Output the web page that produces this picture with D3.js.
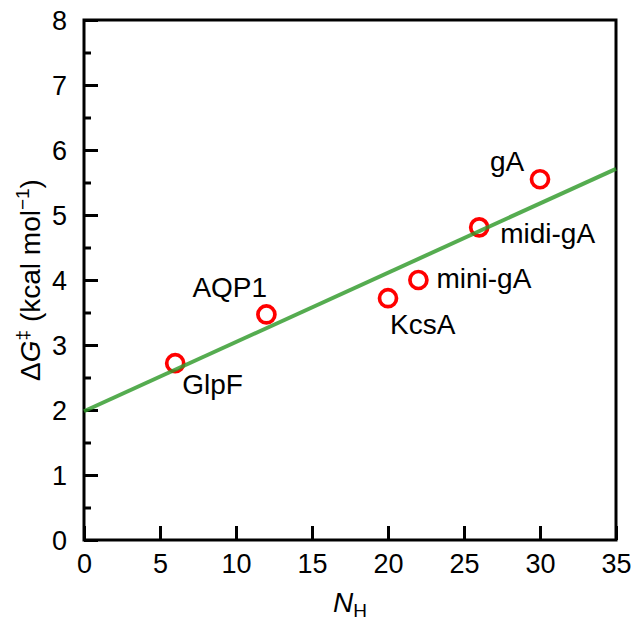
<!DOCTYPE html>
<html>
<head>
<meta charset="utf-8">
<script src="https://cdn.jsdelivr.net/npm/d3@7"></script>
<style>
  body { margin: 0; background: #fff; }
  text { font-family: "Liberation Sans", Arial, sans-serif; }
</style>
</head>
<body>
<div class="chart"></div>
<script>
var svgWidth = 641;
var svgHeight = 623;

var margin = { top: 20, right: 25, bottom: 83, left: 84 };
var width = svgWidth - margin.left - margin.right;
var height = svgHeight - margin.top - margin.bottom;

// data
var channels = ["GlpF", "AQP1", "KcsA", "mini-gA", "midi-gA", "gA"];
var nH = [6, 12, 20, 22, 26, 30];
var dG = [2.72, 3.47, 3.72, 4.0, 4.81, 5.55];
// fitted line: value at N_H = 0 and N_H = 35
var fitX = [0, 35];
var fitY = [1.98, 5.71];
var xTicks = [0, 5, 10, 15, 20, 25, 30, 35];
var yTicks = [0, 1, 2, 3, 4, 5, 6, 7, 8];
var yMinorTicks = [0.5, 1.5, 2.5, 3.5, 4.5, 5.5, 6.5, 7.5];

// label offsets relative to the point (dx, dy to baseline), text-anchor start
var labelOffsets = [[7, 31], [-74, -17], [2, 36], [18, 8], [21, 16], [-50, -8]];

var svg = d3.select(".chart")
  .append("svg")
  .attr("width", svgWidth)
  .attr("height", svgHeight);

var chartGroup = svg.append("g")
  .attr("transform", `translate(${margin.left}, ${margin.top})`);

var xScale = d3.scaleLinear().domain([0, 35]).range([0, width]);
var yScale = d3.scaleLinear().domain([0, 8]).range([height, 0]);

// axes, ticks pointing inward
var bottomAxis = d3.axisBottom(xScale)
  .tickValues(xTicks)
  .tickSizeInner(-14)
  .tickSizeOuter(0)
  .tickPadding(14);

var leftAxis = d3.axisLeft(yScale)
  .tickValues(yTicks)
  .tickSizeInner(-14)
  .tickSizeOuter(0)
  .tickPadding(17);

var leftMinor = d3.axisLeft(yScale)
  .tickValues(yMinorTicks)
  .tickSizeInner(-7)
  .tickSizeOuter(0)
  .tickFormat("");

var xg = chartGroup.append("g")
  .attr("transform", `translate(0, ${height})`)
  .call(bottomAxis);

var yg = chartGroup.append("g").call(leftAxis);
var ymg = chartGroup.append("g").call(leftMinor);

[xg, yg, ymg].forEach(function(g) {
  g.select(".domain").remove();
  g.selectAll(".tick line").attr("stroke", "#000").attr("stroke-width", 3);
  g.selectAll(".tick text")
    .attr("fill", "#000")
    .attr("font-size", 27)
    .style("font-family", "'Liberation Sans', Arial, sans-serif");
});
yg.selectAll(".tick text").attr("dy", "0.36em");
xg.selectAll(".tick text").attr("dy", "0.71em");

// frame
chartGroup.append("rect")
  .attr("x", 0)
  .attr("y", 0)
  .attr("width", width)
  .attr("height", height)
  .attr("fill", "none")
  .attr("stroke", "#000")
  .attr("stroke-width", 3);

var points = channels.map(function(c, i) {
  return { name: c, x: nH[i], y: dG[i], off: labelOffsets[i] };
});

// circles
chartGroup.selectAll("circle")
  .data(points)
  .enter()
  .append("circle")
  .attr("cx", d => xScale(d.x))
  .attr("cy", d => yScale(d.y))
  .attr("r", 8.5)
  .attr("fill", "none")
  .attr("stroke", "#ff0000")
  .attr("stroke-width", 3.7);

// fit line on top, slightly transparent
var fitData = fitX.map((x, i) => ({ x: x, y: fitY[i] }));
chartGroup.append("path")
  .datum(fitData)
  .attr("d", d3.line().x(d => xScale(d.x)).y(d => yScale(d.y)))
  .attr("stroke", "#2f9a2a")
  .attr("stroke-opacity", 0.82)
  .attr("stroke-width", 4)
  .attr("fill", "none");

// point labels
chartGroup.selectAll(".plabel")
  .data(points)
  .enter()
  .append("text")
  .attr("class", "plabel")
  .attr("x", d => xScale(d.x) + d.off[0])
  .attr("y", d => yScale(d.y) + d.off[1])
  .attr("font-size", 28)
  .attr("fill", "#000")
  .text(d => d.name);

// axis titles
var xt = svg.append("text")
  .attr("x", margin.left + width / 2)
  .attr("y", 612)
  .attr("text-anchor", "middle")
  .attr("font-size", 28)
  .attr("fill", "#000");
xt.append("tspan").attr("font-style", "italic").text("N");
xt.append("tspan").attr("font-size", 19).attr("dy", 5).text("H");

var yt = svg.append("text")
  .attr("transform", `translate(40, ${margin.top + height / 2}) rotate(-90)`)
  .attr("text-anchor", "middle")
  .attr("font-size", 28)
  .attr("fill", "#000");
yt.append("tspan").text("\u0394");
yt.append("tspan").attr("font-style", "italic").text("G");
yt.append("tspan").attr("font-size", 19).attr("dy", -11).text("\u2021");
yt.append("tspan").attr("dy", 11).text(" (kcal mol");
yt.append("tspan").attr("font-size", 19).attr("dy", -11).text("\u22121");
yt.append("tspan").attr("dy", 11).text(")");
</script>
</body>
</html>
